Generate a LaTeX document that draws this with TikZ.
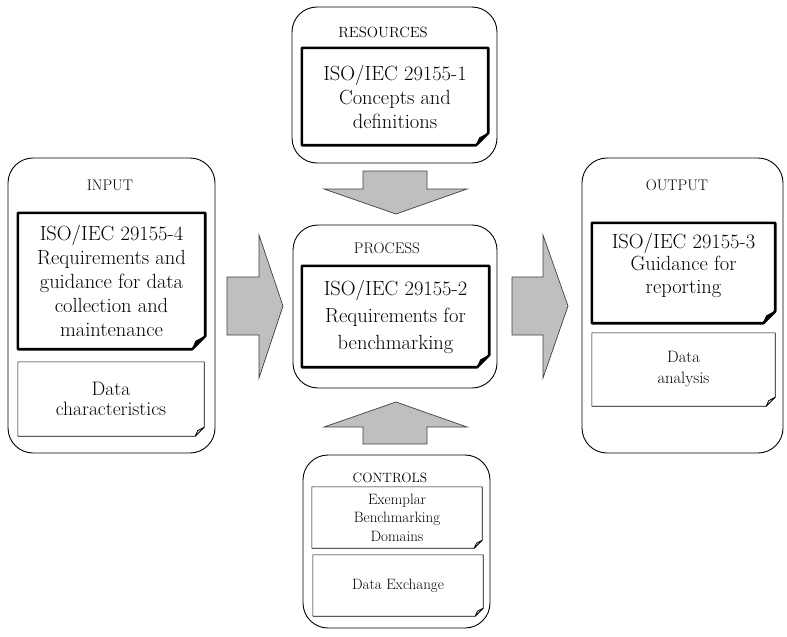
\documentclass[tikz,border=0pt]{standalone}
\usepackage{fontspec}
\usetikzlibrary{calc}

\tikzset{
  outerbox/.style={draw, rounded corners=25pt, line width=0.9pt},
  docbox/.style={inner sep=0pt, align=center, font=\fontsize{20.5}{24}\selectfont},
  notebox/.style={inner sep=0pt, align=center, font=\fontsize{16.5}{21}\selectfont},
  smallnote/.style={inner sep=0pt, align=center, font=\fontsize{15}{18.5}\selectfont},
  boxlabel/.style={font=\fontsize{15.3}{17}\selectfont},
  blockarrow/.style={draw=black!75, fill=black!25, line width=0.7pt, line join=miter}
}

% page outline with folded corner, drawn round a named node
\newcommand{\pageoutline}[4]{%
  \draw[line width=#3, line join=round] (#1.north west) -- (#1.north east) -- ([yshift=#2]#1.south east)
    -- ([xshift=-#2]#1.south east) -- (#1.south west) -- cycle;
  \draw[line width=0.8pt, fill=#4, line join=round] ([xshift=-#2]#1.south east)
    -- ([xshift=-0.72*#2, yshift=0.62*#2]#1.south east)
    -- ([yshift=#2]#1.south east) -- cycle;
}

\begin{document}
\begin{tikzpicture}[x=1pt, y=-1pt]
\useasboundingbox (0,0) rectangle (787,637);

% outer frames
\node[outerbox, minimum width=207pt, minimum height=295pt] (inp) at (111.5,305.5){};
\node[outerbox, minimum width=205pt, minimum height=156pt] (res) at (394.5,85){};
\node[outerbox, minimum width=204pt, minimum height=163pt] (proc) at (395,306.5){};
\node[outerbox, minimum width=187pt, minimum height=173pt] (ctrl) at (396.5,541.5){};
\node[outerbox, minimum width=201pt, minimum height=295pt] (outp) at (682.5,305.5){};

% labels
\node[boxlabel] (inplbl) at (110,185){INPUT};
\node[boxlabel, font=\fontsize{14.8}{17}\selectfont] (reslbl) at (383,32){RESOURCES};
\node[boxlabel] (proclbl) at (387,248){PROCESS};
\node[boxlabel, font=\fontsize{13.5}{16}\selectfont] (ctrllbl) at (390,478){CONTROLS};
\node[boxlabel] (outplbl) at (677,185){OUTPUT};

% standards
\node[docbox, minimum width=187pt, minimum height=136pt] (inp1) at (111.5,281)
  {ISO/IEC 29155-4\\Requirements and\\guidance for data\\collection and\\maintenance};
\pageoutline{inp1}{13pt}{2.6pt}{black}
\node[docbox, minimum width=186pt, minimum height=97pt] (res1) at (395,96.5)
  {ISO/IEC 29155-1\\Concepts and\\definitions};
\pageoutline{res1}{12pt}{2.6pt}{black}
\node[docbox, font=\fontsize{20.5}{27}\selectfont, minimum width=187pt, minimum height=101pt] (proc1) at (395.5,316.5)
  {ISO/IEC 29155-2\\Requirements for\\benchmarking};
\pageoutline{proc1}{12pt}{2.6pt}{black}
\node[docbox, minimum width=183pt, minimum height=100pt] (outp1) at (683.5,273){};
\node[docbox, font=\fontsize{20.5}{22.5}\selectfont] (outp1txt) at (683.5,265){ISO/IEC 29155-3\\Guidance for\\reporting};
\pageoutline{outp1}{12pt}{2.6pt}{black}

% other parts
\node[notebox, font=\fontsize{19.5}{20}\selectfont, minimum width=186pt, minimum height=74pt] (inp2) at (111,399)
  {Data\\characteristics};
\pageoutline{inp2}{9pt}{0.6pt}{white}
\node[notebox, minimum width=183pt, minimum height=73pt] (outp2) at (683.5,369.5)
  {Data\\analysis};
\pageoutline{outp2}{9pt}{0.6pt}{white}
\node[smallnote, minimum width=170pt, minimum height=61pt] (ctrl1) at (397,517.5)
  {Exemplar\\Benchmarking\\Domains};
\pageoutline{ctrl1}{8pt}{0.6pt}{white}
\node[smallnote, minimum width=170pt, minimum height=61pt] (ctrl2) at (398,585.5)
  {Data Exchange};
\pageoutline{ctrl2}{8pt}{0.6pt}{white}

% block arrows
\draw[blockarrow] (363,171) -- (427,171) -- (427,189) -- (467,189) -- (396,214)
  -- (324,189) -- (363,189) -- cycle;
\draw[blockarrow] (363,444) -- (427,444) -- (427,427) -- (467,427) -- (396,402)
  -- (324,427) -- (363,427) -- cycle;
\draw[blockarrow] (227,277) -- (259,277) -- (259,235) -- (283,306) -- (259,378)
  -- (259,335) -- (227,335) -- cycle;
\draw[blockarrow] (512,277) -- (543,277) -- (543,235) -- (568,306) -- (543,378)
  -- (543,335) -- (512,335) -- cycle;

\end{tikzpicture}
\end{document}
